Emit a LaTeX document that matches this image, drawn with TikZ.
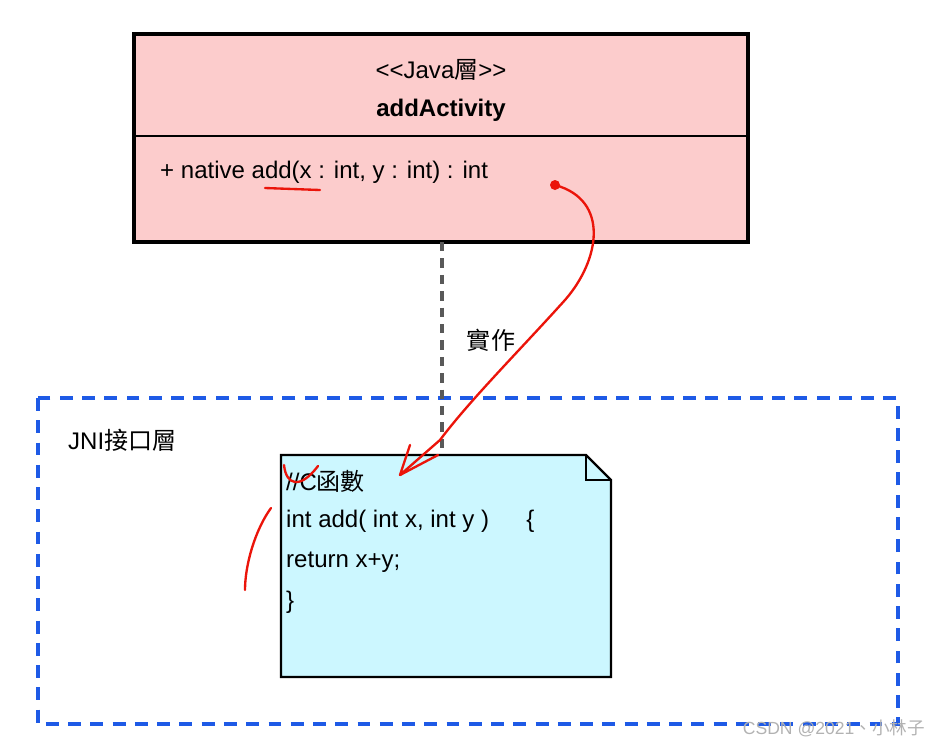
\documentclass[tikz,border=0pt]{standalone}
\usepackage{fontspec}
\setmainfont{Liberation Sans}
\newfontfamily\cjk{Noto Sans CJK TC}
\usetikzlibrary{positioning}
\definecolor{classpink}{RGB}{252,204,204}
\definecolor{notecyan}{RGB}{204,247,255}
\definecolor{jniblue}{RGB}{30,90,230}
\definecolor{penred}{RGB}{235,20,10}
\tikzset{txt/.style = {inner sep = 0, font=\fontsize{20.5}{24}\selectfont}}
\tikzset{pen/.style = {draw=penred, line width=2pt, line cap=round, line join=round}}

\begin{document}
\begin{tikzpicture}[x=0.03cm, y=-0.03cm]
    \useasboundingbox (0, 0) rectangle (937, 747);

    % class box
    \draw [fill=classpink, line width=2.8pt] (134, 34) rectangle (748, 242);
    \draw [line width=1.4pt] (134, 136) -- (748, 136);
    \node [txt] (stereo) at (441, 70) {<{}<Java{\cjk 層}>{}>};
    \node [txt, font=\fontsize{20.5}{24}\selectfont\bfseries] (cname) at (441, 110) {addActivity};
    \node [txt, anchor = west] (op) at (160, 172) {+ native add(x : int, y : int) : int};

    % JNI layer
    \draw [jniblue, line width=3.2pt, dash pattern=on 11pt off 8pt] (38, 398) rectangle (898, 724);
    \node [txt, anchor = west] (jni) at (68, 440) {JNI{\cjk 接口層}};

    % note
    \draw [fill=notecyan, line width=2pt] (281, 455) -- (586, 455) -- (611, 480) -- (611, 677) -- (281, 677) -- cycle;
    \draw [line width=2pt] (586, 455) -- (586, 480) -- (611, 480);
    \coordinate (notetop) at (442, 455);
    \node [txt, anchor = west] (l1) at (286, 481) {//C{\cjk 函數}};
    \node [txt, anchor = west] (l2) at (286, 521) {int add( int x, int y )\quad\ \ \{};
    \node [txt, anchor = west] (l3) at (286, 562) {return x+y;};
    \node [txt, anchor = west] (l4) at (286, 602) {\}};

    % realization
    \coordinate (classbot) at (442, 242);
    \draw [gray!70!black, line width=2.6pt, dash pattern=on 8pt off 6pt] (classbot) -- (notetop);
    \node [txt, font=\fontsize{20.5}{24}\selectfont\cjk] (impl) at (491, 340) {實作};

    % red pen marks
    \draw [pen] (555, 185) .. controls (610, 200) and (600, 260) .. (565, 300)
                .. controls (520, 350) and (470, 400) .. (440, 440)
                -- (400, 475) -- (410, 445);
    \draw [pen] (400, 475) -- (438, 455);
    \fill [penred] (555, 185) circle (5);
    \draw [pen] (265, 188) -- (320, 190);
    \draw [pen] (284, 465) .. controls (286, 485) and (300, 490) .. (318, 466);
    \draw [pen] (271, 508) .. controls (255, 530) and (245, 565) .. (245, 590);

    % watermark
    \node [txt, font=\fontsize{15}{18}\selectfont, text=gray!60, anchor = east] (mark) at (925, 728) {CSDN @2021{\cjk 、小林子}};
\end{tikzpicture}
\end{document}
